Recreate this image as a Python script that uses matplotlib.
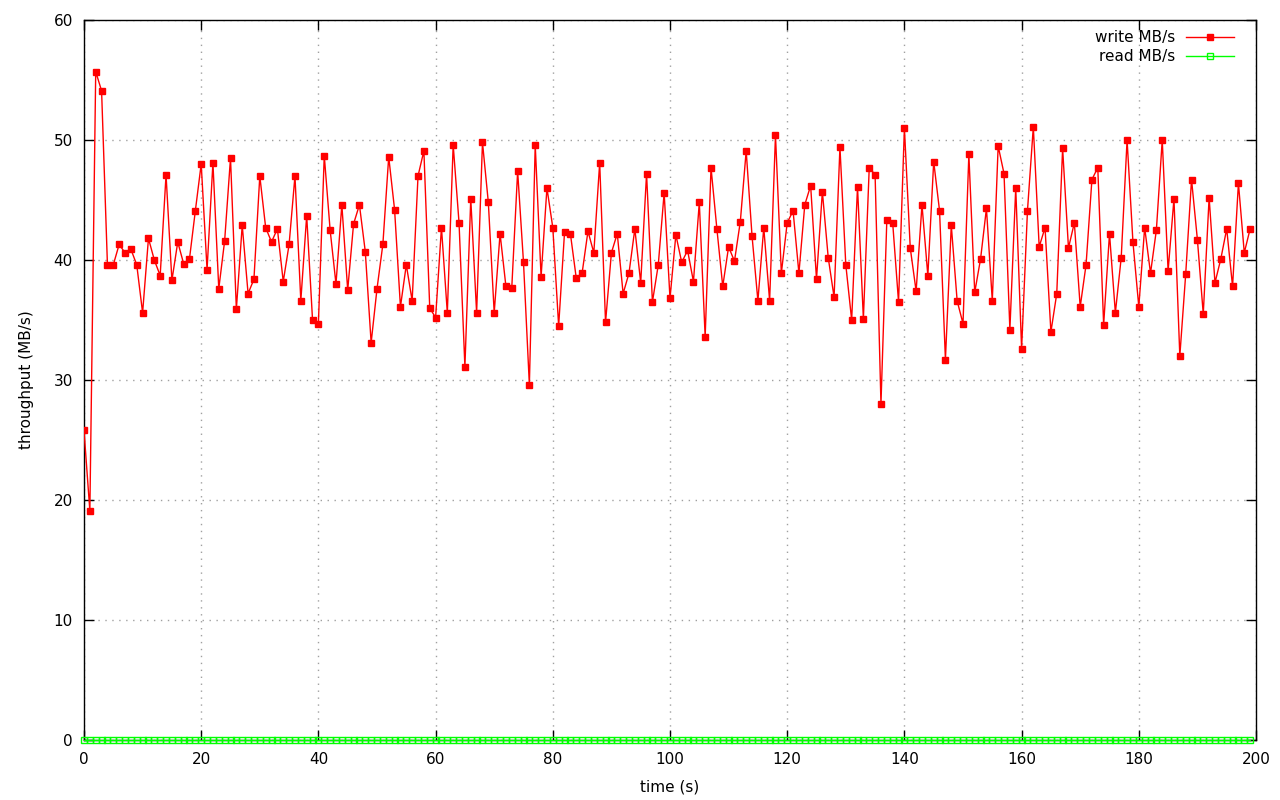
import numpy as np
import matplotlib
matplotlib.use('Agg')
import matplotlib.pyplot as plt

# ==========================================
# data: write / read throughput, one sample per second (t = 0..199)
# ==========================================
time_s = list(range(200))

write_mbs = [
    25.8, 19.1, 55.7, 54.1, 39.6, 39.6, 41.3, 40.6, 40.9, 39.6,
    35.6, 41.8, 40.0, 38.7, 47.1, 38.3, 41.5, 39.7, 40.1, 44.1,
    48.0, 39.2, 48.1, 37.6, 41.6, 48.5, 35.9, 42.9, 37.2, 38.4,
    47.0, 42.7, 41.5, 42.6, 38.2, 41.3, 47.0, 36.6, 43.7, 35.0,
    34.7, 48.7, 42.5, 38.0, 44.6, 37.5, 43.0, 44.6, 40.7, 33.1,
    37.6, 41.3, 48.6, 44.2, 36.1, 39.6, 36.6, 47.0, 49.1, 36.0,
    35.2, 42.7, 35.6, 49.6, 43.1, 31.1, 45.1, 35.6, 49.8, 44.8,
    35.6, 42.2, 37.8, 37.7, 47.4, 39.8, 29.6, 49.6, 38.6, 46.0,
    42.7, 34.5, 42.3, 42.2, 38.5, 38.9, 42.4, 40.6, 48.1, 34.8,
    40.6, 42.2, 37.2, 38.9, 42.6, 38.1, 47.2, 36.5, 39.6, 45.6,
    36.8, 42.1, 39.8, 40.8, 38.2, 44.8, 33.6, 47.7, 42.6, 37.8,
    41.1, 39.9, 43.2, 49.1, 42.0, 36.6, 42.7, 36.6, 50.4, 38.9,
    43.1, 44.1, 38.9, 44.6, 46.2, 38.4, 45.7, 40.2, 36.9, 49.4,
    39.6, 35.0, 46.1, 35.1, 47.7, 47.1, 28.0, 43.3, 43.1, 36.5,
    51.0, 41.0, 37.4, 44.6, 38.7, 48.2, 44.1, 31.7, 42.9, 36.6,
    34.7, 48.8, 37.3, 40.1, 44.3, 36.6, 49.5, 47.2, 34.2, 46.0,
    32.6, 44.1, 51.1, 41.1, 42.7, 34.0, 37.2, 49.3, 41.0, 43.1,
    36.1, 39.6, 46.7, 47.7, 34.6, 42.2, 35.6, 40.2, 50.0, 41.5,
    36.1, 42.7, 38.9, 42.5, 50.0, 39.1, 45.1, 32.0, 38.8, 46.7,
    41.7, 35.5, 45.2, 38.1, 40.1, 42.6, 37.8, 46.4, 40.6, 42.6,
]

read_mbs = [0.0] * 200

x_ticks = list(range(0, 201, 20))
y_ticks = list(range(0, 61, 10))

# ==========================================
# figure (gnuplot-like look)
# ==========================================
plt.rcParams['font.family'] = ['DejaVu Sans']
plt.rcParams['font.size'] = 11

fig = plt.figure(figsize=(12.8, 8), dpi=100)
ax = fig.add_axes([84 / 1280, 60 / 800, 1172 / 1280, 720 / 800])

ax.plot(time_s, write_mbs, color='#ff0000', lw=1, marker='s', markersize=4.6,
        markerfacecolor='#ff0000', markeredgecolor='#ff0000', label='write MB/s',
        zorder=3)
ax.plot(time_s, read_mbs, color='#00ff00', lw=1, marker='s', markersize=4.6,
        markerfacecolor='none', markeredgecolor='#00ff00', markeredgewidth=1,
        label='read MB/s', clip_on=False, zorder=4)

ax.set_xlim(0, 200)
ax.set_ylim(0, 60)
ax.set_xticks(x_ticks)
ax.set_yticks(y_ticks)

ax.grid(True, color='#a0a0a0', linestyle=(0, (1, 4)), linewidth=1)
ax.set_axisbelow(True)

ax.tick_params(direction='in', length=7, width=1, top=True, right=True,
               color='black', labelsize=11)
ax.tick_params(axis='y', pad=8)
ax.tick_params(axis='x', pad=9)

for sp in ax.spines.values():
    sp.set_linewidth(1)
    sp.set_color('black')

ax.set_xlabel('time (s)', fontsize=11, labelpad=9)
ax.set_ylabel('throughput (MB/s)', fontsize=11, labelpad=14)

leg = ax.legend(loc='upper right', bbox_to_anchor=(1 - 10 / 1172, 1 + 2 / 720),
                frameon=False, markerfirst=False,
                numpoints=1, handlelength=3.1, handletextpad=0.7,
                labelspacing=0.25, borderaxespad=0.4, fontsize=11)

fig.savefig('out.png', dpi=100)
